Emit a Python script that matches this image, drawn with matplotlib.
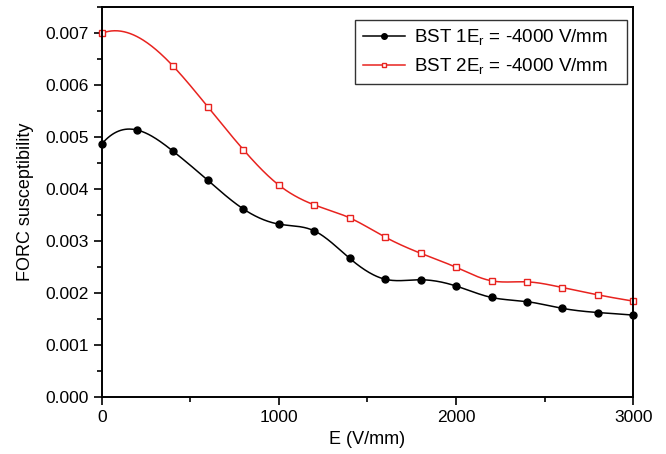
import numpy as np
import matplotlib.pyplot as plt
from matplotlib.ticker import MultipleLocator, FormatStrFormatter

plt.rcParams['font.family'] = ['Liberation Sans', 'DejaVu Sans']

# BST 1 (every 200 V/mm)
e1 = [0, 200, 400, 600, 800, 1000, 1200, 1400, 1600, 1800,
      2000, 2200, 2400, 2600, 2800, 3000]
chi1 = [0.00487, 0.00514, 0.00474, 0.00417, 0.00362, 0.00333, 0.00320, 0.00267,
        0.00227, 0.00226, 0.00214, 0.00192, 0.00184, 0.00171, 0.00163, 0.00158]

# BST 2 (no point at 200)
e2 = [0, 400, 600, 800, 1000, 1200, 1400, 1600, 1800,
      2000, 2200, 2400, 2600, 2800, 3000]
chi2 = [0.00700, 0.00638, 0.00558, 0.00476, 0.00408, 0.00370, 0.00345, 0.00308,
        0.00277, 0.00250, 0.00224, 0.00222, 0.00211, 0.00197, 0.00185]


def spline_line(x, y, n=500):
    # not-a-knot cubic spline, only for drawing the smooth connecting line
    x = np.asarray(x, float)
    y = np.asarray(y, float)
    k = len(x)
    h = np.diff(x)
    A = np.zeros((k, k))
    b = np.zeros(k)
    A[0, 0], A[0, 1], A[0, 2] = h[1], -(h[0] + h[1]), h[0]
    A[-1, -3], A[-1, -2], A[-1, -1] = h[-1], -(h[-2] + h[-1]), h[-2]
    for i in range(1, k - 1):
        A[i, i - 1] = h[i - 1]
        A[i, i] = 2 * (h[i - 1] + h[i])
        A[i, i + 1] = h[i]
        b[i] = 6 * ((y[i + 1] - y[i]) / h[i] - (y[i] - y[i - 1]) / h[i - 1])
    M = np.linalg.solve(A, b)
    xs = np.linspace(x[0], x[-1], n)
    idx = np.clip(np.searchsorted(x, xs) - 1, 0, k - 2)
    x0, x1 = x[idx], x[idx + 1]
    hh = x1 - x0
    t0, t1 = x1 - xs, xs - x0
    ys = (M[idx] * t0**3 + M[idx + 1] * t1**3) / (6 * hh) \
        + (y[idx] / hh - M[idx] * hh / 6) * t0 \
        + (y[idx + 1] / hh - M[idx + 1] * hh / 6) * t1
    return xs, ys


red = '#e8231f'

fig = plt.figure(figsize=(6.66, 4.54), dpi=100)
ax = fig.add_axes([0.1527, 0.1249, 0.7982, 0.859])

xs1, ys1 = spline_line(e1, chi1)
xs2, ys2 = spline_line(e2, chi2)

ax.plot(xs1, ys1, color='black', lw=1.1)
ax.plot(e1, chi1, 'o', color='black', ms=5, clip_on=False)
ax.plot(xs2, ys2, color=red, lw=1.1)
ax.plot(e2, chi2, 's', color=red, mfc='white', mew=1, ms=4.5, clip_on=False)

# legend handles
h1, = ax.plot([], [], '-o', color='black', lw=1.1, ms=4)
h2, = ax.plot([], [], '-s', color=red, mfc='white', lw=1.1, ms=3.5)
leg = ax.legend([h1, h2],
                ['BST 1E$_\\mathregular{r}$ = -4000 V/mm   ',
                 'BST 2E$_\\mathregular{r}$ = -4000 V/mm   '],
                loc='upper right', bbox_to_anchor=(0.9887, 0.9674),
                borderaxespad=0, fontsize=13.5, frameon=True,
                fancybox=False, edgecolor='black', handlelength=2.24,
                borderpad=0.4, labelspacing=0.45, handletextpad=0.5)
leg.get_frame().set_linewidth(1.0)

ax.set_xlim(0, 3000)
ax.set_ylim(0, 0.0075)
ax.xaxis.set_major_locator(MultipleLocator(1000))
ax.xaxis.set_minor_locator(MultipleLocator(500))
ax.yaxis.set_major_locator(MultipleLocator(0.001))
ax.yaxis.set_minor_locator(MultipleLocator(0.0005))
ax.yaxis.set_major_formatter(FormatStrFormatter('%.3f'))
ax.tick_params(which='both', direction='out', top=False, right=False,
               labelsize=12.5, width=1.2)
ax.tick_params(which='major', length=6)
ax.tick_params(which='minor', length=3.5)
for s in ax.spines.values():
    s.set_linewidth(1.4)

ax.set_xlabel('E (V/mm)', fontsize=13, labelpad=4)
ax.set_ylabel('FORC susceptibility', fontsize=13, labelpad=8)

fig.savefig('out.png', dpi=100)
